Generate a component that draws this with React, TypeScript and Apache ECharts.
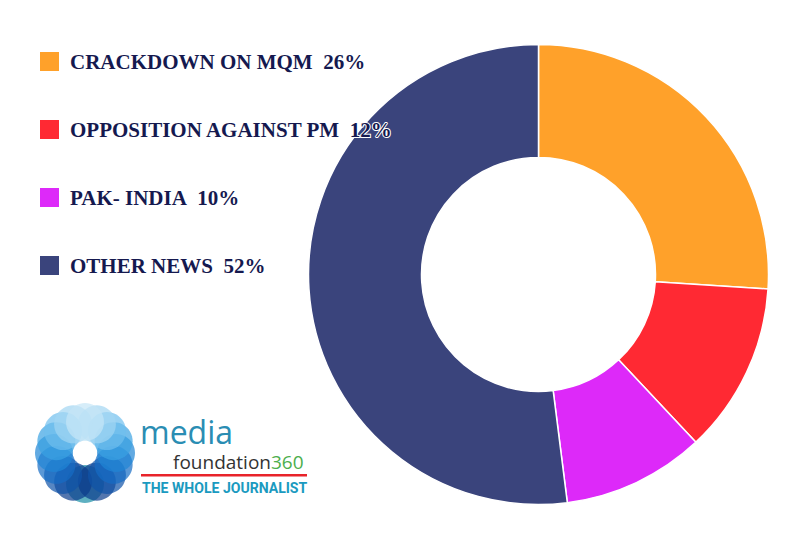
import React, { useEffect, useRef } from "react";
import * as echarts from "echarts";

const categories = ["CRACKDOWN ON MQM", "OPPOSITION AGAINST PM", "PAK- INDIA", "OTHER NEWS"];
const values = [26, 12, 10, 52];
const colors = ["#FFA12A", "#FF2933", "#DD29F9", "#3A447C"];

const flowerColors = [
  "#c4e6f6", "#a2d6f2", "#6fbfee", "#3aa2e2", "#1f86d6", "#166cc4", "#1053a8", "#0b3c8c",
  "#1a8fa6", "#0b3c8c", "#1053a8", "#166cc4", "#1f86d6", "#3aa2e2", "#6fbfee", "#a2d6f2",
];

export default function App() {
  const ref = useRef<HTMLDivElement>(null);
  useEffect(() => {
    if (!ref.current) return;
    const chart = echarts.init(ref.current, undefined, { renderer: "svg" });
    const cx = 85, cy = 453, ringR = 31, cr = 19;
    const order = [8, 7, 9, 6, 10, 5, 11, 4, 12, 3, 13, 2, 14, 1, 15, 0];
    const flower = order.map((i) => {
      const a = (i * 2 * Math.PI) / flowerColors.length;
      return {
        type: "circle",
        shape: { cx: cx + ringR * Math.sin(a), cy: cy - ringR * Math.cos(a), r: cr },
        style: { fill: flowerColors[i], opacity: 0.7 },
        z: 1,
      };
    });
    chart.setOption({
      animation: false,
      backgroundColor: "#ffffff",
      legend: {
        orient: "vertical",
        left: 38,
        top: 50,
        padding: 0,
        itemWidth: 21,
        itemHeight: 21,
        itemGap: 45,
        icon: "rect",
        z: 10,
        selectedMode: false,
        formatter: (name: string) => {
          const i = categories.indexOf(name);
          return name + "\u00a0\u00a0" + values[i] + "%";
        },
        textStyle: {
          fontFamily: "'Liberation Serif', 'Times New Roman', serif",
          fontWeight: "bold",
          fontSize: 21,
          color: "#15194f",
          padding: [0, 0, 0, 5],
          textBorderColor: "#ffffff",
          textBorderWidth: 2,
        },
      },
      series: [
        {
          type: "pie",
          center: [538.5, 274.5],
          radius: [117, 230],
          startAngle: 90,
          clockwise: true,
          label: { show: false },
          labelLine: { show: false },
          itemStyle: { borderColor: "#ffffff", borderWidth: 1.5 },
          emphasis: { disabled: true },
          data: categories.map((n, i) => ({ name: n, value: values[i], itemStyle: { color: colors[i] } })),
        },
      ],
      graphic: [
        ...flower,
        {
          type: "text",
          x: 140,
          y: 431,
          style: {
            text: "media",
            font: "normal 32px 'Open Sans', sans-serif",
            fill: "#2a8db3",
            verticalAlign: "middle",
            lineHeight: 24,
          },
        },
        {
          type: "text",
          x: 173,
          y: 462,
          style: {
            text: "{a|foundation}{b|360}",
            verticalAlign: "middle",
            rich: {
              a: { font: "normal 19px 'Open Sans', sans-serif", fill: "#333333", lineHeight: 16 },
              b: { font: "normal 19px 'Open Sans', sans-serif", fill: "#4cae4c", lineHeight: 16 },
            },
          },
        },
        {
          type: "rect",
          shape: { x: 141, y: 474, width: 166, height: 2.5 },
          style: { fill: "#e8232a" },
        },
        {
          type: "text",
          x: 142,
          y: 488,
          scaleX: 0.97,
          style: {
            text: "THE WHOLE JOURNALIST",
            font: "bold 14.5px Roboto, sans-serif",
            fill: "#1a9ac0",
            verticalAlign: "middle",
          },
        },
      ],
    });
    return () => chart.dispose();
  }, []);
  return (
    <div
      ref={ref}
      style={{ position: "fixed", left: 0, top: 0, width: 787, height: 535 }}
    />
  );
}
